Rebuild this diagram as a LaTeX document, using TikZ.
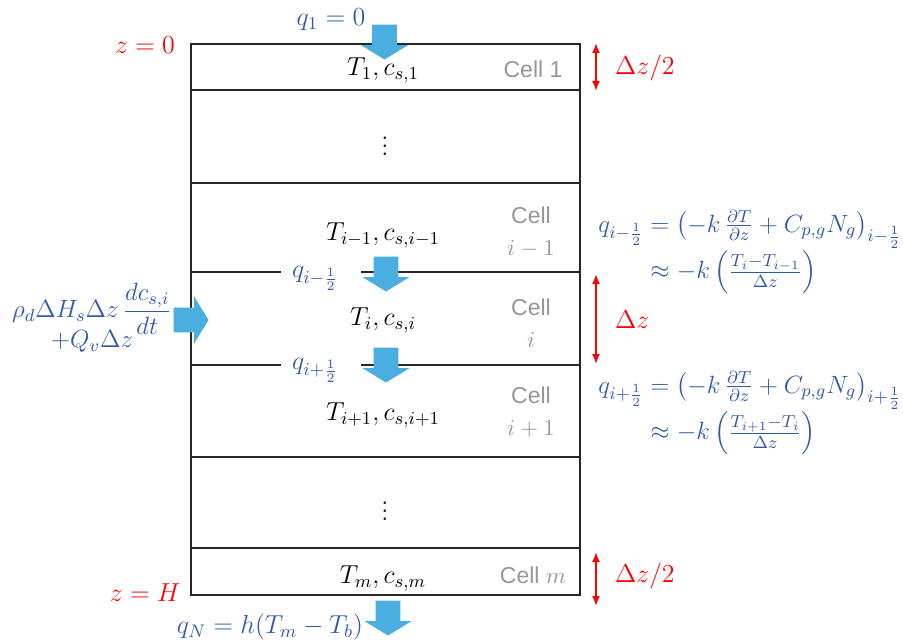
\RequirePackage{fix-cm}
\documentclass[tikz,border=0pt]{standalone}
\usepackage{amsmath}
\usepackage{fontspec}
\newfontfamily\cellfont{Liberation Sans}
\usetikzlibrary{shapes.arrows,arrows.meta}
\definecolor{fluxblue}{RGB}{75,174,224}
\definecolor{eqblue}{RGB}{50,90,170}
\definecolor{cellgray}{RGB}{150,150,150}

\begin{document}
\begin{tikzpicture}[
  x=0.5pt, y=-0.5pt,
  wall/.style={draw=black!85, line width=1pt},
  flux/.style={single arrow, fill=fluxblue, draw=none, inner sep=6pt,
    single arrow head extend=5.5pt, single arrow tip angle=117, minimum height=17.5pt},
  state/.style={font=\fontsize{13}{16}\selectfont, text=black},
  celllbl/.style={font=\cellfont\fontsize{11.5}{16}\selectfont, text=cellgray, align=center},
  redlbl/.style={font=\fontsize{13}{16}\selectfont, text=red},
  eqlbl/.style={font=\fontsize{13}{16}\selectfont, text=eqblue, align=center},
  balance/.style={font=\fontsize{12.5}{15}\selectfont, text=eqblue, inner sep=0pt, anchor=west}
]
\useasboundingbox (0,0) rectangle (903,642);

\draw[wall] (191,44) rectangle (580,595);
\foreach \y in {90,183,457,548}
  \draw[wall] (191,\y) -- (580,\y);
\foreach \y in {272,365}{
  \draw[wall] (191,\y) -- (281,\y);
  \draw[wall] (361,\y) -- (580,\y);
}

\node[flux, shape border rotate=270, anchor=tip] (qtop) at (384.5,60) {};
\node[flux, shape border rotate=270, anchor=tip] (qmid1) at (386,292) {};
\node[flux, shape border rotate=270, anchor=tip] (qmid2) at (386,383) {};
\node[flux, shape border rotate=270, anchor=tip] (qbot) at (388,636) {};
\node[flux, anchor=tip] (qsrc) at (209,320) {};

\node[state] (T1) at (383,70) {$T_1, c_{s,1}$};
\node[state] (dots1) at (385,140) {$\vdots$};
\node[state] (Tprev) at (383,235) {$T_{i-1}, c_{s,i-1}$};
\node[state] (Ti) at (383,320) {$T_i, c_{s,i}$};
\node[state] (Tnext) at (383,415) {$T_{i+1}, c_{s,i+1}$};
\node[state] (dots2) at (385,505) {$\vdots$};
\node[state] (Tm) at (383,578) {$T_m, c_{s,m}$};

\node[celllbl] (cell1) at (533,69) {Cell 1};
\node[celllbl] (cellprev) at (531,232) {Cell\\$i-1$};
\node[celllbl] (celli) at (531,323) {Cell\\$i$};
\node[celllbl] (cellnext) at (531,412) {Cell\\$i+1$};
\node[celllbl] (cellm) at (533,575) {Cell $m$};

\node[redlbl] (ztop) at (145,45) {$z=0$};
\node[redlbl] (zbot) at (145,593) {$z=H$};
\coordinate (d1a) at (596,43);
\coordinate (d1b) at (596,91);
\coordinate (d2a) at (596,274);
\coordinate (d2b) at (596,364);
\coordinate (d3a) at (596,552);
\coordinate (d3b) at (596,606);
\draw[red, line width=0.9pt, {Latex[length=5pt,width=4pt]}-{Latex[length=5pt,width=4pt]}] (d1a) -- (d1b);
\draw[red, line width=0.9pt, {Latex[length=5pt,width=4pt]}-{Latex[length=5pt,width=4pt]}] (d2a) -- (d2b);
\draw[red, line width=0.9pt, {Latex[length=5pt,width=4pt]}-{Latex[length=5pt,width=4pt]}] (d3a) -- (d3b);
\node[redlbl, anchor=west] (dz1) at (608,68) {$\Delta z/2$};
\node[redlbl, anchor=west] (dz2) at (608,320) {$\Delta z$};
\node[redlbl, anchor=west] (dz3) at (608,576) {$\Delta z/2$};

\node[eqlbl] (q1) at (331,20) {$q_1 = 0$};
\node[eqlbl] (qhalf1) at (315,278) {$q_{i-\frac{1}{2}}$};
\node[eqlbl] (qhalf2) at (315,370) {$q_{i+\frac{1}{2}}$};
\node[eqlbl] (qN) at (270,627) {$q_N = h(T_m - T_b)$};
\node[eqlbl, font=\fontsize{12.5}{15}\selectfont] (src) at (92,318) {$\rho_d \Delta H_s \Delta z \,\dfrac{dc_{s,i}}{dt}$\\[-3pt]$+Q_v \Delta z$};

\node[balance] (eqprev) at (598,252) {$\begin{aligned}
  q_{i-\frac{1}{2}} &= \left(-k\,\tfrac{\partial T}{\partial z} + C_{p,g}N_g\right)_{i-\frac{1}{2}}\\[-3pt]
  &\approx -k\left(\tfrac{T_i - T_{i-1}}{\Delta z}\right)
\end{aligned}$};
\node[balance] (eqnext) at (598,413) {$\begin{aligned}
  q_{i+\frac{1}{2}} &= \left(-k\,\tfrac{\partial T}{\partial z} + C_{p,g}N_g\right)_{i+\frac{1}{2}}\\[-3pt]
  &\approx -k\left(\tfrac{T_{i+1} - T_i}{\Delta z}\right)
\end{aligned}$};
\end{tikzpicture}
\end{document}
